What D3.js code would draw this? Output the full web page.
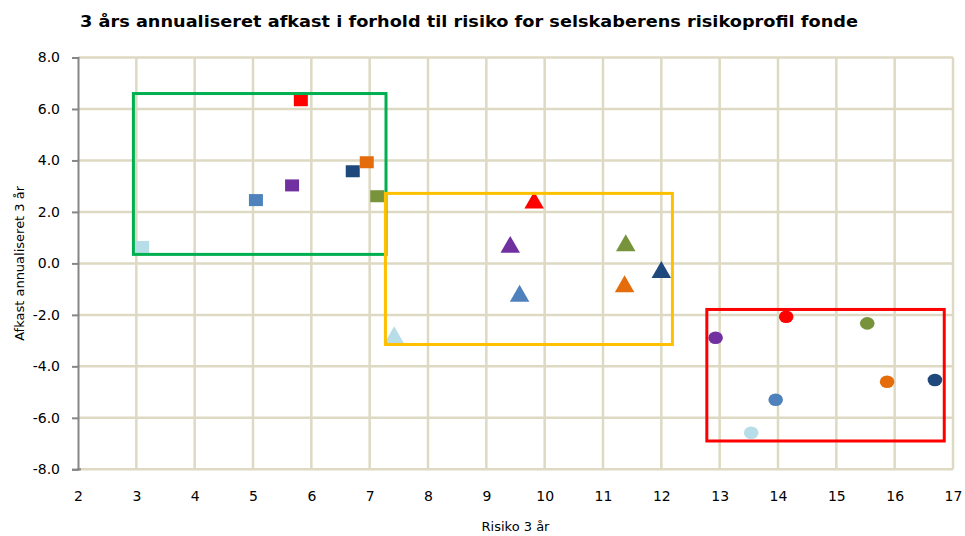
<!DOCTYPE html>
<html><head><meta charset="utf-8">
<script src="https://cdn.jsdelivr.net/npm/d3@7"></script>
<style>body{margin:0;background:#fff}svg{display:block}</style>
</head><body>
<script>
const title = "3 års annualiseret afkast i forhold til risiko for selskaberens risikoprofil fonde";
const xTitle = "Risiko 3 år";
const yTitle = "Afkast annualiseret 3 år";
const xTicks = [2,3,4,5,6,7,8,9,10,11,12,13,14,15,16,17];
const yTicks = [-8,-6,-4,-2,0,2,4,6,8];
const funds = ["lightblue","steelblue","purple","red","navy","orange","olive"];
const colors = ["#b7dde8","#4f81bd","#7030a0","#ff0000","#1f497d","#e46c0a","#77933c"];
// squares (low risk profile)
const sqX = [3.10,5.05,5.67,5.82,6.71,6.95,7.13];
const sqY = [0.64,2.46,3.03,6.34,3.58,3.93,2.61];
// triangles (medium)
const trX = [7.42,9.57,9.41,9.82,12.00,11.37,11.39];
const trY = [-2.84,-1.23,0.67,2.39,-0.31,-0.86,0.73];
// circles (high)
const ciX = [13.54,13.96,12.93,14.14,16.69,15.87,15.53];
const ciY = [-6.58,-5.30,-2.89,-2.07,-4.53,-4.60,-2.33];
// group boxes [x1,x2,yTop,yBottom]
const boxNames = ["green","yellow","red"];
const boxColors = ["#00b050","#ffc000","#ff0000"];
const boxX1 = [2.95,7.27,12.78];
const boxX2 = [7.28,12.19,16.85];
const boxYTop = [6.60,2.72,-1.79];
const boxYBot = [0.35,-3.15,-6.90];

const W=965,H=536;
const m={l:78,r:12,t:57.5,b:66.7};
const svg=d3.select("body").append("svg").attr("width",W).attr("height",H);
const x=d3.scaleLinear().domain([2,17]).range([m.l,W-m.r]);
const y=d3.scaleLinear().domain([-8,8]).range([H-m.b,m.t]);
const grid="#ddd9c3";

// gridlines
svg.append("g").selectAll("line").data(xTicks.slice(1)).join("line")
  .attr("x1",d=>x(d)).attr("x2",d=>x(d)).attr("y1",y(8)).attr("y2",y(-8))
  .attr("stroke",grid).attr("stroke-width",2.5);
svg.append("g").selectAll("line").data(yTicks).join("line")
  .attr("x1",x(2)).attr("x2",x(17)).attr("y1",d=>y(d)).attr("y2",d=>y(d))
  .attr("stroke",grid).attr("stroke-width",2.5);

// y axis
const ya=svg.append("g").attr("transform",`translate(${x(2)},0)`)
  .call(d3.axisLeft(y).tickValues(yTicks).tickFormat(d3.format(".1f")).tickSize(6).tickPadding(12));
ya.select(".domain").attr("stroke","#868686").attr("stroke-width",2);
ya.selectAll(".tick line").attr("stroke","#868686").attr("stroke-width",2);
ya.selectAll("text").attr("font-family","DejaVu Sans").attr("font-size",14).attr("fill","#000");
ya.selectAll(".tick text").text(d=>d3.format(".1f")(d).replace("−","-"));

// x axis labels
const xa=svg.append("g").attr("transform",`translate(0,${y(-8)})`)
  .call(d3.axisBottom(x).tickValues(xTicks).tickFormat(d3.format("d")).tickSize(0).tickPadding(22));
xa.select(".domain").remove();
xa.selectAll("text").attr("font-family","DejaVu Sans").attr("font-size",14).attr("fill","#000");
svg.append("line").attr("x1",x(2)-1).attr("x2",x(2)+3).attr("y1",y(-8)).attr("y2",y(-8)).attr("stroke","#868686").attr("stroke-width",2);

// titles
svg.append("text").attr("x",80).attr("y",27).attr("font-family","DejaVu Sans").attr("font-weight","bold")
  .attr("font-size",16).attr("textLength",778).attr("lengthAdjust","spacingAndGlyphs").attr("fill","#000").text(title);
svg.append("text").attr("x",(x(2)+x(17))/2).attr("y",531).attr("text-anchor","middle")
  .attr("font-family","DejaVu Sans").attr("font-size",13).attr("fill","#000").text(xTitle);
svg.append("text").attr("transform",`translate(24,${(y(8)+y(-8))/2}) rotate(-90)`).attr("text-anchor","middle")
  .attr("font-family","DejaVu Sans").attr("font-size",13).attr("fill","#000").text(yTitle);

// markers
const idx=d3.range(funds.length);
svg.append("g").selectAll("rect").data(idx).join("rect")
  .attr("x",i=>x(sqX[i])-7).attr("y",i=>y(sqY[i])-6).attr("width",14).attr("height",12)
  .attr("fill",i=>colors[i]);
const tri=d3.symbol().type(d3.symbolTriangle).size(165);
svg.append("g").selectAll("path").data(idx).join("path")
  .attr("transform",i=>`translate(${x(trX[i])},${y(trY[i])+1})`)
  .attr("d",tri).attr("fill",i=>colors[i]);
svg.append("g").selectAll("ellipse").data(idx).join("ellipse")
  .attr("cx",i=>x(ciX[i])).attr("cy",i=>y(ciY[i])).attr("rx",7.3).attr("ry",6.3)
  .attr("fill",i=>colors[i]);

// boxes
svg.append("g").selectAll("rect").data(d3.range(boxNames.length)).join("rect")
  .attr("x",i=>x(boxX1[i])).attr("y",i=>y(boxYTop[i]))
  .attr("width",i=>x(boxX2[i])-x(boxX1[i])).attr("height",i=>y(boxYBot[i])-y(boxYTop[i]))
  .attr("fill","none").attr("stroke",i=>boxColors[i]).attr("stroke-width",3);
</script>
</body></html>
